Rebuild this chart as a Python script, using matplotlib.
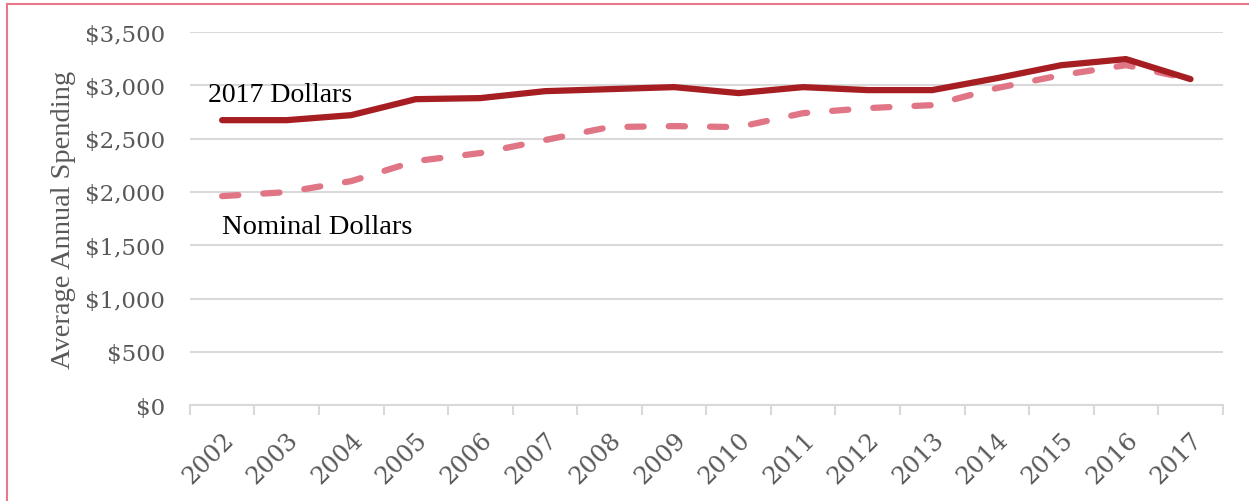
import matplotlib
matplotlib.use("Agg")

import matplotlib.pyplot as plt
from matplotlib.lines import Line2D
from matplotlib.ticker import FuncFormatter, MultipleLocator

years = [str(y) for y in range(2002, 2018)]
real_2017 = [2674, 2674, 2721, 2871, 2881, 2946, 2965, 2984,
             2928, 2984, 2956, 2956, 3068, 3190, 3247, 3059]
nominal = [1961, 1999, 2102, 2290, 2365, 2487, 2609, 2618,
           2609, 2740, 2787, 2815, 2975, 3097, 3190, 3059]

GRAY = "#595959"
GRID = "#D9D9D9"
plt.rcParams["font.family"] = ["Liberation Serif", "DejaVu Serif"]
TICKFONT = {"family": ["DejaVu Serif"]}

fig = plt.figure(figsize=(12.49, 5.02), dpi=100)
ax = fig.add_axes([0.152, 0.191, 0.827, 0.743])

x = list(range(len(years)))
ax.plot(x, nominal, color="#E07585", lw=4.5, ls=(0, (2.6, 4.0)),
        solid_capstyle="round", dash_capstyle="round")
ax.plot(x, real_2017, color="#A61E22", lw=4.5, solid_capstyle="round",
        solid_joinstyle="round")

ax.set_xlim(-0.5, len(years) - 0.5)
ax.set_ylim(0, 3500)
ax.yaxis.set_major_locator(MultipleLocator(500))
ax.yaxis.set_major_formatter(FuncFormatter(lambda v, p: f"${v:,.0f}"))
ax.grid(axis="y", color=GRID, lw=1.5)
ax.set_axisbelow(True)

ax.set_xticks(x)
ax.set_xticklabels(years, rotation=45, ha="right", rotation_mode="anchor")
ax.set_xticks([i - 0.5 for i in range(len(years) + 1)], minor=True)
ax.tick_params(axis="x", which="major", length=0, pad=16, labelsize=17.5,
               labelcolor=GRAY)
ax.tick_params(axis="x", which="minor", length=7, width=1.5, color=GRID,
               direction="out")
ax.tick_params(axis="y", length=0, pad=18, labelsize=16.5, labelcolor=GRAY)
for lbl in ax.get_xticklabels() + ax.get_yticklabels():
    lbl.set_family("DejaVu Serif")

for s in ["top", "right", "left"]:
    ax.spines[s].set_visible(False)
ax.spines["bottom"].set_color(GRID)
ax.spines["bottom"].set_linewidth(1.5)

ax.set_ylabel("Average Annual Spending", fontsize=20.5, color=GRAY, labelpad=6)

ax.text(-0.22, 2918, "2017 Dollars", fontsize=20, color="black", va="center")
ax.text(0.0, 1680, "Nominal Dollars", fontsize=20.5, color="black", va="center")

# outer frame of the original graphic
fig.add_artist(Line2D([0.0056, 1.0], [0.991, 0.991], transform=fig.transFigure,
                      color="#E8788A", lw=1.5))
fig.add_artist(Line2D([0.0056, 0.0056], [0.0, 0.991], transform=fig.transFigure,
                      color="#E8788A", lw=1.5))

fig.savefig("out.png", dpi=100)
